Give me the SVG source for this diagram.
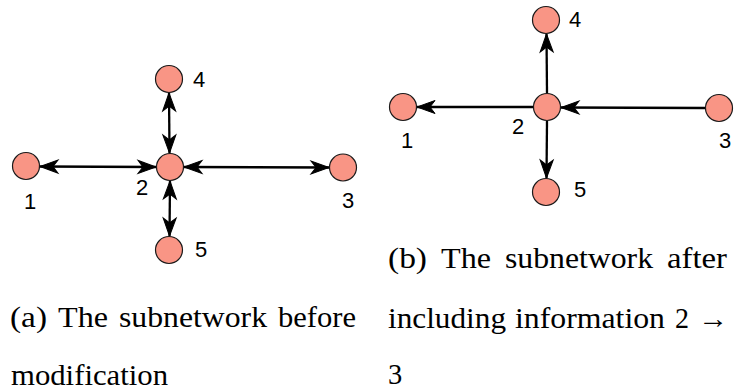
<svg xmlns="http://www.w3.org/2000/svg" width="735" height="390" viewBox="0 0 735 390">
<style>
.node{fill:#F99585;stroke:#1a1a1a;stroke-width:1.2}
.lbl{font-family:"Liberation Sans",Arial,sans-serif;font-size:22px;fill:#000;text-anchor:middle}
.edge{stroke:#000;stroke-width:2.3;fill:none}
.cap{font-family:"Liberation Serif","Times New Roman",serif;font-size:28.5px;fill:#000}
</style>
<defs>
<marker id="arr" viewBox="-20 -8 22 16" refX="0" refY="0" markerWidth="22" markerHeight="16" markerUnits="userSpaceOnUse" orient="auto-start-reverse">
<path d="M0,0 L-18,-6.5 L-13,0 L-18,6.5 Z" fill="#000" stroke="#000" stroke-width="1" stroke-linejoin="miter"/>
</marker>
</defs>
<rect width="735" height="390" fill="#fff"/>
<g id="connectors">
<line class="edge" x1="40" y1="166.5" x2="156" y2="167" marker-start="url(#arr)" marker-end="url(#arr)"/>
<line class="edge" x1="184" y1="167" x2="329" y2="167.5" marker-start="url(#arr)" marker-end="url(#arr)"/>
<line class="edge" x1="169" y1="93" x2="169.5" y2="153" marker-start="url(#arr)" marker-end="url(#arr)"/>
<line class="edge" x1="170" y1="181" x2="169.5" y2="236" marker-start="url(#arr)" marker-end="url(#arr)"/>
<line class="edge" x1="533" y1="107" x2="417" y2="107" marker-end="url(#arr)"/>
<line class="edge" x1="705" y1="108" x2="561" y2="107.5" marker-end="url(#arr)"/>
<line class="edge" x1="547" y1="93" x2="546.5" y2="34" marker-end="url(#arr)"/>
<line class="edge" x1="547" y1="121" x2="546.5" y2="178" marker-end="url(#arr)"/>
</g>
<g id="a-n1"><circle class="node" cx="26" cy="166" r="13.5"/><text class="lbl" x="30" y="209">1</text></g>
<g id="a-n2"><circle class="node" cx="170" cy="167" r="13.5"/><text class="lbl" x="142" y="195">2</text></g>
<g id="a-n3"><circle class="node" cx="343" cy="167.5" r="13.5"/><text class="lbl" x="348" y="208">3</text></g>
<g id="a-n4"><circle class="node" cx="169" cy="79" r="13.5"/><text class="lbl" x="199" y="87">4</text></g>
<g id="a-n5"><circle class="node" cx="169" cy="250" r="13.5"/><text class="lbl" x="201" y="256.5">5</text></g>
<g id="b-n1"><circle class="node" cx="403" cy="107" r="13.5"/><text class="lbl" x="407" y="148">1</text></g>
<g id="b-n2"><circle class="node" cx="547" cy="107" r="13.5"/><text class="lbl" x="518" y="134">2</text></g>
<g id="b-n3"><circle class="node" cx="719" cy="108" r="13.5"/><text class="lbl" x="725" y="147.5">3</text></g>
<g id="b-n4"><circle class="node" cx="546" cy="20" r="13.5"/><text class="lbl" x="575" y="27">4</text></g>
<g id="b-n5"><circle class="node" cx="546" cy="192" r="13.5"/><text class="lbl" x="580" y="196.5">5</text></g>
<g id="captions">
<text class="cap" y="327"><tspan x="10" textLength="37" lengthAdjust="spacingAndGlyphs">(a)</tspan> <tspan x="58" textLength="50" lengthAdjust="spacingAndGlyphs">The</tspan> <tspan x="119" textLength="148" lengthAdjust="spacingAndGlyphs">subnetwork</tspan> <tspan x="278" textLength="78" lengthAdjust="spacingAndGlyphs">before</tspan></text>
<text class="cap" x="11" y="385" textLength="157" lengthAdjust="spacingAndGlyphs">modification</text>
<text class="cap" y="268"><tspan x="388" textLength="39" lengthAdjust="spacingAndGlyphs">(b)</tspan> <tspan x="441" textLength="50" lengthAdjust="spacingAndGlyphs">The</tspan> <tspan x="505" textLength="148" lengthAdjust="spacingAndGlyphs">subnetwork</tspan> <tspan x="667" textLength="60" lengthAdjust="spacingAndGlyphs">after</tspan></text>
<text class="cap" y="328"><tspan x="388" textLength="118" lengthAdjust="spacingAndGlyphs">including</tspan> <tspan x="515" textLength="150" lengthAdjust="spacingAndGlyphs">information</tspan> <tspan x="675" textLength="14" lengthAdjust="spacingAndGlyphs">2</tspan> <tspan x="698" textLength="30" lengthAdjust="spacingAndGlyphs">→</tspan></text>
<text class="cap" x="388" y="384">3</text>
</g>
</svg>
